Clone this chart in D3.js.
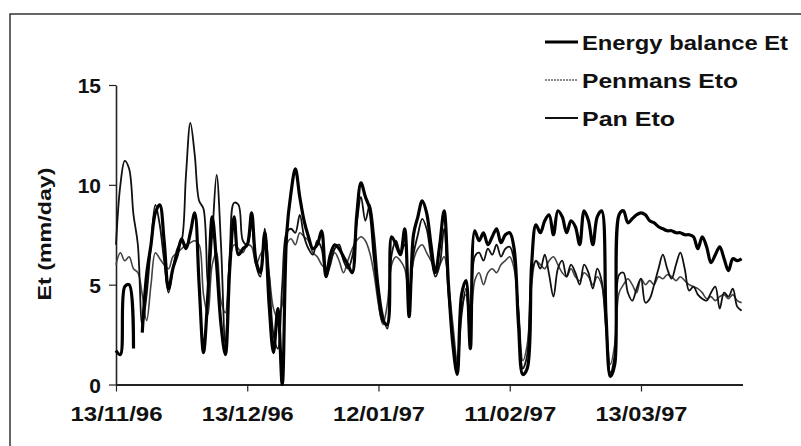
<!DOCTYPE html>
<html>
<head>
<meta charset="utf-8">
<script src="https://cdn.jsdelivr.net/npm/d3@7"></script>
<style>
  html, body { margin: 0; padding: 0; background: #fff; }
  svg text { font-family: "Liberation Sans", Arial, sans-serif; font-weight: bold; fill: #111; }
</style>
</head>
<body>
<div id="chart"></div>
<script>
// daily series from 13/11/96, null = missing day
const startDate = new Date(1996, 10, 13);
const energyBalance = [
  1.7, 1.5, 4.9, 5.0, 1.8, null, 2.6, 5.5, 7.0, 8.6,
  9.0, 7.2, 4.8, 5.8, 6.5, 7.3, 6.8, 7.6, 8.6, 5.0,
  1.6, 4.5, 8.4, 6.0, 3.0, 1.5, 5.8, 8.4, 6.5, 6.8,
  7.0, 8.6, 6.2, 5.6, 7.6, 4.0, 1.6, 3.8, 0.0, 7.5,
  9.6, 10.8, 9.4, 8.2, 7.4, 6.8, 7.0, 7.7, 5.4, 6.5,
  7.0, 6.8, 6.4, 6.0, 5.6, 8.4, 10.1, 9.4, 8.8, 6.5,
  4.5, 3.2, 3.0, 7.4, 7.0, 6.5, 7.8, 3.4, 7.5, 8.4,
  9.2, 8.6, 7.0, 5.6, 7.0, 8.7, 5.0, 2.0, 0.5, 4.5,
  5.2, 1.8, 7.7, 7.2, 7.6, 7.0, 7.4, 7.8, 7.1, 7.5,
  7.6, 6.8, 3.0, 0.5, 0.8, 6.0, 8.0, 7.6, 8.2, 8.5,
  7.5, 8.7, 8.4, 7.6, 8.2, 7.9, 7.0, 8.7, 8.2, 7.0,
  8.4, 8.7, 3.5, 0.4, 1.0, 8.5, 8.7, 8.1, 8.3, 8.5,
  8.6, 8.5, 8.2, 8.1, 7.9, 7.8, 7.7, 7.7, 7.6, 7.6,
  7.5, 7.5, 7.4, 6.8, 7.4, 6.9, 6.1, 6.5, 6.9, 6.3,
  5.7, 6.3, 6.2, 6.3
];
const penmanEto = [
  6.0, 6.6, 6.2, 6.4, 5.8, 5.6, 4.5, 3.2, 5.0, 6.6,
  6.3, 6.0, 5.8, 6.4, 6.6, 6.8, 7.0, 7.1, 7.2, 7.0,
  4.5, 3.5, 6.0, 6.6, 4.2, 3.6, 6.2, 7.0, 6.8, 6.6,
  7.0, 6.9, 6.0, 6.5, 6.8, 5.5, 3.8, 3.3, 4.0, 7.0,
  7.3, 7.0, 7.6, 7.4, 7.2, 6.6, 6.4, 6.0, 5.8, 6.2,
  6.6, 6.2, 5.6, 6.2, 6.8, 7.2, 7.4, 7.2, 6.6, 5.5,
  4.0, 3.0, 4.0, 6.0, 6.4, 6.2, 5.8, 4.5, 6.2, 6.8,
  7.0, 6.6, 6.2, 5.8, 6.0, 6.4, 5.0, 3.0, 1.2, 3.8,
  4.5, 3.0, 5.2, 5.6, 5.0, 5.6, 5.8, 5.6, 6.0, 6.2,
  6.4, 5.8, 3.8, 1.2, 2.0, 5.0, 6.2, 6.0, 5.8, 6.2,
  6.4, 6.0, 5.6, 5.4, 5.8, 5.4, 5.2, 5.6, 5.4, 5.0,
  5.4, 5.0, 3.2, 1.0, 2.0, 4.6, 5.0, 5.3, 5.0, 4.6,
  5.3, 5.0, 5.2, 5.0, 5.4, 5.3, 5.5, 5.4, 5.2, 5.4,
  5.2, 5.0, 4.9, 4.8, 4.6, 4.3, 4.4, 4.2, 4.4, 4.5,
  4.3, 4.5, 4.2, 4.1
];
const panEto = [
  7.0, 10.0, 11.2, 10.8, 8.5, 7.0, 3.0, 4.5, 7.0, 9.0,
  8.0, 6.2, 4.6, 5.8, 6.8, 7.2, 10.5, 13.1, 11.5, 9.2,
  8.8, 5.0, 7.5, 10.5, 7.0, 2.0, 6.5, 9.1, 9.0, 7.2,
  7.0, 8.0, 6.0, 5.4, 7.8, 5.5, 2.5, 1.8, 5.0, 7.6,
  7.8, 7.6, 8.5, 7.4, 6.8, 6.5, 7.2, 6.8, 5.4, 6.0,
  6.8, 7.0, 6.2, 5.8, 6.4, 8.0, 9.4, 8.2, 9.0, 7.5,
  5.0, 3.5, 2.8, 6.5, 7.2, 6.6, 7.0, 4.0, 6.5, 7.5,
  8.3, 7.8, 6.4, 5.4, 6.0, 7.8, 4.5, 2.5, 1.0, 3.5,
  4.8, 2.2, 6.4, 6.6, 6.2, 6.8, 6.5, 7.0, 6.4, 6.8,
  6.9, 6.2, 3.5, 0.8, 1.5, 5.5, 6.2, 5.8, 6.5, 5.5,
  4.4, 5.8, 6.2, 5.4, 6.0, 5.6, 5.0, 6.0, 5.6, 4.8,
  5.8, 5.2, 2.8, 0.6, 1.5, 5.5, 5.6, 4.6, 4.2, 4.8,
  5.3, 4.1, 4.3, 5.0, 5.8, 6.5, 5.8, 5.3, 6.0, 6.6,
  5.8, 4.7, 4.9, 4.5, 4.3, 4.2, 4.6, 4.9, 3.8, 4.6,
  4.4, 4.8, 3.9, 3.7
];
const yTicks = [0, 5, 10, 15];
const xTickDates = [
  new Date(1996, 10, 13), new Date(1996, 11, 13), new Date(1997, 0, 12),
  new Date(1997, 1, 11), new Date(1997, 2, 13)
];
const seriesNames = ['Energy balance Et', 'Penmans Eto', 'Pan Eto'];

const width = 801, height = 446;
const svg = d3.select('#chart').append('svg')
  .attr('width', width)
  .attr('height', height);

// frame of the scanned figure
svg.append('path')
  .attr('d', 'M10,446 L10,14 L801,14')
  .attr('fill', 'none')
  .attr('stroke', '#333')
  .attr('stroke-width', 1.5);

const x = d3.scaleTime()
  .domain([startDate, d3.timeDay.offset(startDate, 143)])
  .range([116, 741.6]);
const y = d3.scaleLinear().domain([0, 15]).range([384.5, 85]);

const dateAt = (i) => d3.timeDay.offset(startDate, i);

// axes
const yAxis = svg.append('g')
  .attr('transform', 'translate(116,0)')
  .call(d3.axisLeft(y).tickValues(yTicks).tickSize(7).tickSizeOuter(0).tickPadding(8));
yAxis.select('.domain').attr('stroke', '#222').attr('stroke-width', 1.6);
yAxis.selectAll('.tick line').attr('stroke', '#222').attr('stroke-width', 1.2);
yAxis.selectAll('.tick text')
  .attr('font-size', 21)
  .attr('font-family', null)
  .attr('dy', '0.36em');

const xAxis = svg.append('g')
  .attr('transform', 'translate(0,384.5)')
  .call(d3.axisBottom(x).tickValues(xTickDates).tickSize(7).tickSizeOuter(0)
    .tickFormat(d3.timeFormat('%d/%m/%y')).tickPadding(15));
xAxis.select('.domain').attr('d', 'M116,0.5H743').attr('stroke', '#222').attr('stroke-width', 1.8);
xAxis.selectAll('.tick line').attr('stroke', '#222').attr('stroke-width', 1.2);
xAxis.selectAll('.tick text')
  .attr('font-size', 21)
  .attr('font-family', null)
  .attr('textLength', 92)
  .attr('lengthAdjust', 'spacingAndGlyphs');

svg.append('text')
  .attr('transform', 'translate(51,234) rotate(-90)')
  .attr('text-anchor', 'middle')
  .attr('font-size', 19)
  .attr('textLength', 133)
  .attr('lengthAdjust', 'spacingAndGlyphs')
  .text('Et (mm/day)');

// lines
const line = d3.line()
  .defined((d) => d != null)
  .x((d, i) => x(dateAt(i)))
  .y((d) => y(d))
  .curve(d3.curveCatmullRom.alpha(0.5));

svg.append('path')
  .datum(penmanEto)
  .attr('fill', 'none')
  .attr('stroke', '#444')
  .attr('stroke-width', 1.6)
  .attr('d', line);

svg.append('path')
  .datum(panEto)
  .attr('fill', 'none')
  .attr('stroke', '#111')
  .attr('stroke-width', 1.8)
  .attr('d', line);

svg.append('path')
  .datum(energyBalance)
  .attr('fill', 'none')
  .attr('stroke', '#000')
  .attr('stroke-width', 3.2)
  .attr('d', line);

// legend
const legendStyles = [
  { stroke: '#000', width: 3, dash: null, len: 206 },
  { stroke: '#666', width: 1.4, dash: '2,1', len: 156 },
  { stroke: '#111', width: 2, dash: null, len: 93 }
];
const legend = svg.append('g').attr('transform', 'translate(545,42)');
seriesNames.forEach((name, i) => {
  const g = legend.append('g').attr('transform', `translate(0,${i * 38})`);
  g.append('line')
    .attr('x1', 0).attr('x2', 33)
    .attr('stroke', legendStyles[i].stroke)
    .attr('stroke-width', legendStyles[i].width)
    .attr('stroke-dasharray', legendStyles[i].dash);
  g.append('text')
    .attr('x', 37)
    .attr('dy', '0.36em')
    .attr('font-size', 21)
    .attr('textLength', legendStyles[i].len)
    .attr('lengthAdjust', 'spacingAndGlyphs')
    .text(name);
});
</script>
</body>
</html>
